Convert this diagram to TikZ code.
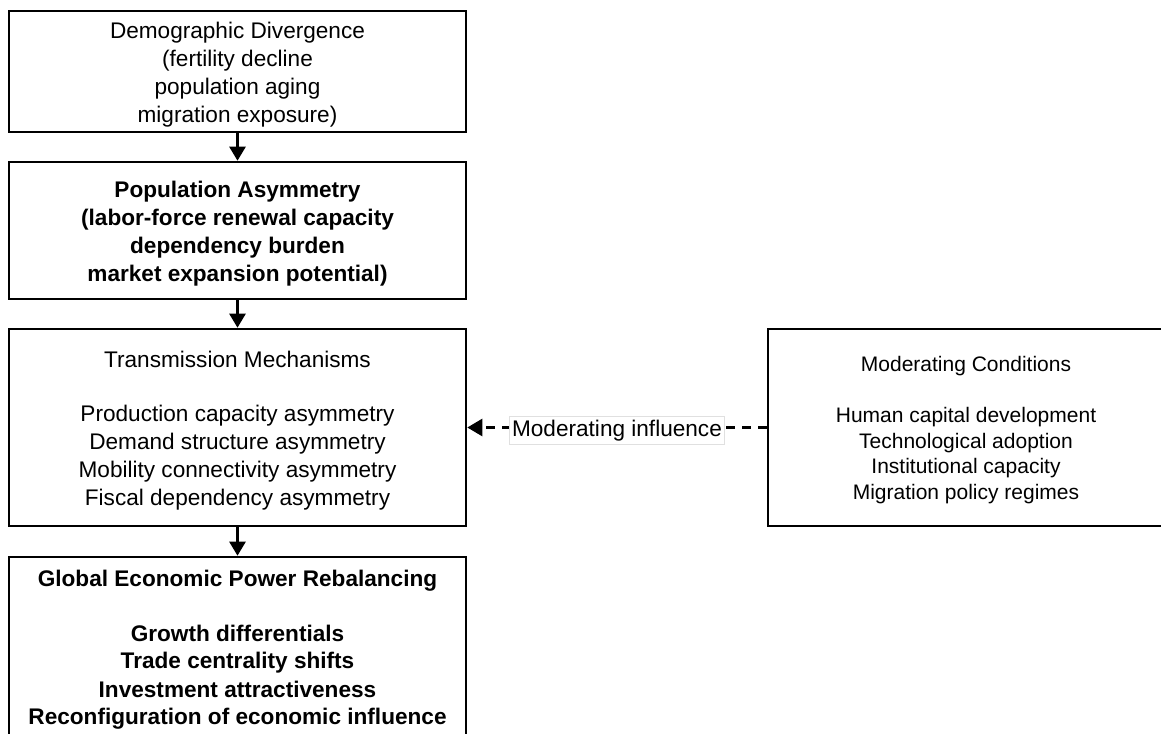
\documentclass[tikz,border=0pt]{standalone}
\usepackage{fontspec}
\setmainfont{Liberation Sans}
\usetikzlibrary{arrows.meta}
\newcommand\bst{\rule[-4.4pt]{0pt}{27pt}}
\newcommand\rst{\rule[-4.6pt]{0pt}{25.5pt}}
\begin{document}
\begin{tikzpicture}[x=1pt,y=-1pt,
  box/.style={draw, line width=2.6pt, inner sep=0pt, align=center, minimum width=457pt,
    font=\fontsize{22.6}{27}\selectfont},
  arr/.style={line width=2.6pt, -{Triangle[length=14pt,width=16pt]}},
  darr/.style={line width=2.6pt, dash pattern=on 9pt off 7pt, -{Triangle[length=15pt,width=17pt]}},
  lbl/.style={solid, fill=white, draw=black!12, line width=0.6pt, inner xsep=2.5pt, inner ysep=3pt,
    text height=17pt, text depth=5pt, font=\fontsize{22.6}{27}\selectfont}
]
\useasboundingbox (0,0) rectangle (1161,733);
\node[box, minimum height=121pt] (b1) at (237.5,71.5)
  {\bst Demographic Divergence\\\bst(fertility decline\\\bst population aging\\\bst migration exposure)};
\node[box, minimum height=137pt, font=\fontsize{22.6}{27}\selectfont\bfseries] (b2) at (237.5,230.5)
  {\bst Population Asymmetry\\\bst(labor-force renewal capacity\\\bst dependency burden\\\bst market expansion potential)};
\node[box, minimum height=197pt] (b3) at (237.5,427.5)
  {\bst Transmission Mechanisms\\[27pt]\bst Production capacity asymmetry\\\bst Demand structure asymmetry\\\bst Mobility connectivity asymmetry\\\bst Fiscal dependency asymmetry};
\node[box, minimum height=179pt, font=\fontsize{22.6}{27}\selectfont\bfseries] (b4) at (237.5,646.5)
  {\bst Global Economic Power Rebalancing\\[27pt]\bst Growth differentials\\\bst Trade centrality shifts\\\bst Investment attractiveness\\\bst Reconfiguration of economic influence};
\node[box, minimum width=396pt, minimum height=197pt, font=\fontsize{21}{25.5}\selectfont] (m) at (966,427.5)
  {\rst Moderating Conditions\\[25.5pt]\rst Human capital development\\\rst Technological adoption\\\rst Institutional capacity\\\rst Migration policy regimes};
\draw[arr] (b1) -- (b2);
\draw[arr] (b2) -- (b3);
\draw[arr] (b3) -- (b4);
\draw[darr] (m.west) -- node[lbl, pos=0.5, yshift=-2.5pt] (lab) {Moderating influence} (b3.east);
\end{tikzpicture}
\end{document}
